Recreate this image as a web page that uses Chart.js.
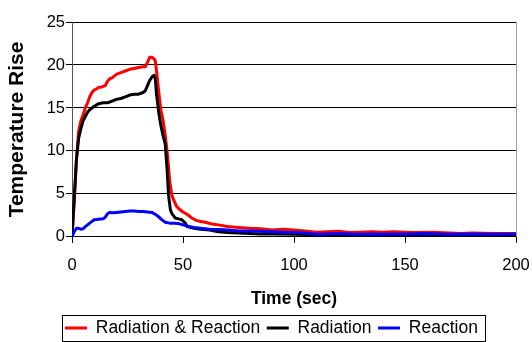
<!DOCTYPE html>
<html>
<head>
<meta charset="utf-8">
<script src="https://cdn.jsdelivr.net/npm/chart.js@4.4.1/dist/chart.umd.min.js"></script>
<style>
html,body{margin:0;padding:0;background:#ffffff;}
#wrap{width:532px;height:342px;position:relative;}
</style>
</head>
<body>
<div id="wrap"><canvas id="c" width="532" height="342"></canvas></div>
<script>
// ---- data ----
const seriesNames = ['Radiation & Reaction', 'Radiation', 'Reaction'];
const seriesColors = ['#ff0000', '#000000', '#0000ff'];

const timeRadReact = [0,1,2,3,4,5,6,7,8,9,10,11,12,13,14,15,16,17,18,19,20,22,24,26,28,30,32,33,34,35,36,37,37.5,38,39,40,41,42,43,44,45,46,47,48,49,50,52,54,56,58,60,63,66,70,75,80,85,90,95,100,105,110,115,120,125,130,135,140,145,150,155,160,165,170,175,180,190,200];
const tempRadReact = [0,4,9,12.3,13.5,14.2,15.0,15.6,16.3,16.8,17.1,17.2,17.4,17.4,17.5,17.6,18.1,18.4,18.5,18.7,18.9,19.1,19.3,19.5,19.6,19.7,19.8,19.8,20.3,20.9,20.9,20.7,20.5,19.5,17.0,14.8,13.6,11.8,9.6,6.5,4.8,4.2,3.6,3.3,3.1,2.9,2.6,2.2,1.9,1.8,1.7,1.5,1.4,1.2,1.1,1.0,0.95,0.8,0.9,0.8,0.7,0.55,0.6,0.65,0.5,0.55,0.6,0.55,0.6,0.55,0.5,0.55,0.5,0.45,0.4,0.45,0.4,0.4];

const timeRad = [0,1,2,3,4,5,6,7,8,9,10,12,14,16,18,20,22,24,26,28,30,32,33,34,35,36,37,37.5,38,39,40,41,42,42.8,43.5,44.3,45,46.5,48,49.5,51,52,55,58,62,66,70,75,80,85,90,100,110,120,130,140,150,160,170,180,190,200];
const tempRad = [0,4.5,9.0,11.5,12.6,13.5,14.0,14.5,14.8,15.0,15.2,15.5,15.6,15.6,15.8,16.0,16.1,16.3,16.5,16.6,16.6,16.8,17.0,17.6,18.2,18.6,18.8,18.4,16.8,14.6,13.0,11.8,10.8,8.0,4.8,3.2,2.7,2.2,2.1,2.0,1.6,1.2,1.0,0.9,0.8,0.6,0.5,0.45,0.4,0.35,0.35,0.3,0.25,0.25,0.25,0.25,0.25,0.25,0.25,0.25,0.25,0.25];

const timeReact = [0,1,2,3,4,5,6,7,8,9,10,12,14,15,16,17,18,20,22,24,26,28,30,32,34,36,37,38,39,40,41,42,44,46,48,50,52,55,58,62,66,70,75,80,85,90,95,100,105,110,115,120,125,130,135,140,145,150,160,170,180,190,200];
const tempReact = [0,0.6,1.0,1.0,0.9,0.95,1.2,1.4,1.6,1.8,2.0,2.05,2.1,2.3,2.7,2.85,2.8,2.85,2.9,2.95,3.0,3.0,2.95,2.95,2.9,2.85,2.7,2.55,2.35,2.1,1.9,1.7,1.6,1.6,1.55,1.4,1.25,1.1,1.0,0.9,0.85,0.8,0.7,0.7,0.65,0.6,0.55,0.5,0.45,0.3,0.35,0.4,0.35,0.3,0.35,0.3,0.35,0.35,0.4,0.3,0.35,0.3,0.35];

const xTickValues = [0, 50, 100, 150, 200];
const yTickValues = [0, 5, 10, 15, 20, 25];
const xTitle = 'Time (sec)';
const yTitle = 'Temperature Rise';

// ---- build datasets ----
const times = [timeRadReact, timeRad, timeReact];
const temps = [tempRadReact, tempRad, tempReact];
const drawOrder = [3, 2, 1]; // blue drawn on top, red at the bottom

const datasets = seriesNames.map((name, i) => ({
  label: name,
  data: times[i].map((t, k) => ({x: t, y: temps[i][k]})),
  borderColor: seriesColors[i],
  backgroundColor: seriesColors[i],
  borderWidth: 3,
  pointRadius: 0,
  pointHoverRadius: 0,
  tension: 0,
  fill: false,
  borderJoinStyle: 'round',
  borderCapStyle: 'round',
  order: drawOrder[i]
}));

const FONT = "'Liberation Sans', Arial, sans-serif";
const legendFrame = {};

const framePlugin = {
  id: 'frame',
  beforeDraw(chart) {
    const lg = chart.legend;
    if (!lg) return;
    const p = lg.options.labels.padding;
    const fs = lg.options.labels.font.size;
    lg.left = 65 - p;
    lg.right = lg.left + lg.lineWidths[0] + 3 * p + 40;
    lg.width = lg.right - lg.left;
    lg.top = 328 - p - fs / 2;
    lg.bottom = 342;
    lg.height = lg.bottom - lg.top;
    const contentStart = lg.left + p;
    const contentEnd = contentStart + lg.lineWidths[0] - p;
    legendFrame.l = contentStart - 3;
    legendFrame.r = contentEnd + 7;
    legendFrame.cy = lg.top + p + fs / 2;
  },
  afterDraw(chart) {
    const ctx = chart.ctx;
    const a = chart.chartArea;
    ctx.save();
    // right edge of the plot area
    ctx.strokeStyle = '#a0a0a0';
    ctx.lineWidth = 1;
    const xr = Math.round(a.right) + 0.5;
    ctx.beginPath();
    ctx.moveTo(xr, a.top);
    ctx.lineTo(xr, a.bottom);
    ctx.stroke();
    // legend frame
    if (legendFrame.l !== undefined) {
      const l = Math.round(legendFrame.l) + 0.5;
      const r = Math.round(legendFrame.r) + 0.5;
      const t = Math.round(legendFrame.cy - 13) + 0.5;
      const b = Math.round(legendFrame.cy + 13) + 0.5;
      ctx.strokeStyle = '#000';
      ctx.lineWidth = 1;
      ctx.strokeRect(l, t, r - l, b - t);
    }
    ctx.restore();
  }
};

new Chart(document.getElementById('c'), {
  type: 'line',
  data: { datasets },
  options: {
    responsive: false,
    devicePixelRatio: 1,
    animation: false,
    events: [],
    layout: { padding: { left: 5, right: 16, top: 22, bottom: 0 } },
    plugins: {
      tooltip: { enabled: false },
      title: { display: false },
      legend: {
        display: true,
        position: 'bottom',
        align: 'start',
        labels: {
          usePointStyle: true,
          pointStyle: 'line',
          pointStyleWidth: 22,
          padding: 6.6,
          color: '#000',
          font: { family: FONT, size: 17.5 },
          sort: (a, b) => a.datasetIndex - b.datasetIndex
        }
      }
    },
    scales: {
      x: {
        type: 'linear',
        min: 0,
        max: 200,
        afterBuildTicks: (s) => { s.ticks = xTickValues.map(v => ({value: v})); },
        afterFit: (s) => { s.height = 71; s.paddingLeft = 0; s.paddingRight = 0; },
        grid: { drawOnChartArea: false, drawTicks: true, tickLength: 6, color: '#000', lineWidth: 1 },
        border: { display: true, color: '#000', width: 1 },
        ticks: { color: '#000', font: { family: FONT, size: 16.5, lineHeight: 2.5 }, padding: 2, maxRotation: 0 },
        title: {
          display: true,
          text: xTitle,
          color: '#000',
          font: { family: FONT, size: 17.5, weight: 'bold', lineHeight: 1 },
          padding: { top: 0, bottom: 0 }
        }
      },
      y: {
        type: 'linear',
        min: 0,
        max: 25,
        afterBuildTicks: (s) => { s.ticks = yTickValues.map(v => ({value: v})); },
        afterFit: (s) => { s.width = 67; },
        grid: { drawOnChartArea: true, drawTicks: true, tickLength: 6, color: '#000', lineWidth: 1 },
        border: { display: true, color: '#555', width: 1 },
        ticks: { color: '#000', font: { family: FONT, size: 16.5 }, padding: 1 },
        title: {
          display: true,
          text: yTitle,
          color: '#000',
          font: { family: FONT, size: 21, weight: 'bold', lineHeight: 1.2 },
          padding: { top: 0, bottom: 0 }
        }
      }
    }
  },
  plugins: [framePlugin]
});
</script>
</body>
</html>
